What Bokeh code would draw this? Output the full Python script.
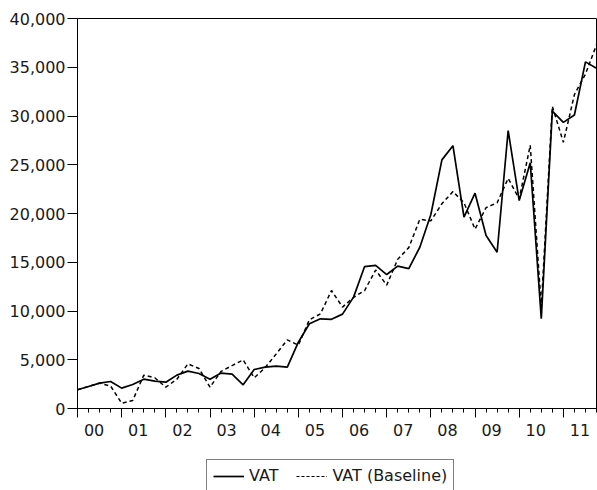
from bokeh.plotting import figure
from bokeh.layouts import column
from bokeh.models import (ColumnDataSource, Range1d, LinearAxis, FixedTicker,
                          CustomJSTickFormatter, NumeralTickFormatter, Legend, LegendItem)
from bokeh.embed import file_html
from bokeh.resources import INLINE

# Quarterly observations, 2000Q1 .. 2011Q4
quarter_index = list(range(48))

vat = [1920, 2260, 2600, 2770, 2090, 2460, 3010, 2800,
       2700, 3420, 3830, 3590, 3010, 3630, 3520, 2430,
       4000, 4240, 4340, 4240, 6800, 8690, 9200, 9150,
       9680, 11420, 14560, 14670, 13740, 14600, 14350, 16540,
       19900, 25500, 26950, 19620, 22080, 17750, 16030, 28510,
       21330, 25200, 9200, 30500, 29350, 30100, 35550, 34900]

vat_baseline = [1920, 2260, 2600, 2300, 540, 820, 3420, 3150,
                2190, 3000, 4580, 4100, 2190, 3800, 4400, 4990,
                3150, 4200, 5600, 7040, 6500, 9100, 9710, 12100,
                10400, 11400, 12100, 14200, 12650, 15300, 16500, 19400,
                19250, 21000, 22250, 21100, 18400, 20600, 21100, 23600,
                21500, 27000, 10400, 31000, 27300, 32200, 34300, 37300]

year_labels = ["00", "01", "02", "03", "04", "05", "06", "07", "08", "09", "10", "11"]
y_ticks = [0, 5000, 10000, 15000, 20000, 25000, 30000, 35000, 40000]

FONT = "DejaVu Sans"
INK = "#1a1a1a"

src = ColumnDataSource(dict(q=quarter_index, vat=vat, base=vat_baseline))

p = figure(width=597, frame_width=519, frame_height=390,
           x_range=Range1d(0, 47), y_range=Range1d(0, 40000),
           x_axis_type=None, y_axis_type=None, output_backend="svg",
           toolbar_location=None, min_border_left=77, min_border_right=1,
           min_border_top=18, min_border_bottom=0)
p.outline_line_color = "black"
p.outline_line_width = 1
p.xgrid.visible = False
p.ygrid.visible = False
p.background_fill_color = "white"
p.border_fill_color = "white"

# Left value axis
yax = LinearAxis(ticker=FixedTicker(ticks=y_ticks, minor_ticks=[]),
                 formatter=NumeralTickFormatter(format="0,0"))
yax.major_tick_out = 10
yax.major_tick_in = 0
yax.major_tick_line_color = "black"
yax.axis_line_color = "black"
yax.major_label_standoff = 2
yax.major_label_text_font = FONT
yax.major_label_text_font_size = "16px"
yax.major_label_text_color = INK
p.add_layout(yax, "left")

# Bottom axis: quarter ticks, longer ticks at the start of each year
year_starts = [4 * k for k in range(len(year_labels))]
xtick_ax = LinearAxis(ticker=FixedTicker(ticks=year_starts, minor_ticks=quarter_index),
                      formatter=CustomJSTickFormatter(code="return '';"))
xtick_ax.major_tick_out = 9
xtick_ax.major_tick_in = 0
xtick_ax.minor_tick_out = 4
xtick_ax.minor_tick_in = 0
xtick_ax.major_tick_line_color = "black"
xtick_ax.minor_tick_line_color = "black"
xtick_ax.axis_line_color = "black"
xtick_ax.major_label_text_font_size = "0px"
xtick_ax.major_label_standoff = 0
p.add_layout(xtick_ax, "below")

# Year labels centred on each year's four quarters
label_pos = [4 * k + 1.5 for k in range(len(year_labels))]
xlab_ax = LinearAxis(ticker=FixedTicker(ticks=label_pos, minor_ticks=[]),
                     formatter=CustomJSTickFormatter(
                         args=dict(labels=year_labels),
                         code="const k = Math.round((tick - 1.5) / 4); return labels[k] || '';"))
xlab_ax.major_tick_out = 0
xlab_ax.major_tick_in = 0
xlab_ax.axis_line_color = None
xlab_ax.major_tick_line_color = None
xlab_ax.major_label_standoff = 6
xlab_ax.major_label_text_font = FONT
xlab_ax.major_label_text_font_size = "16px"
xlab_ax.major_label_text_color = INK
p.add_layout(xlab_ax, "below")

p.line(x="q", y="vat", source=src, line_color="black", line_width=1.7)
p.line(x="q", y="base", source=src, line_color="black", line_width=1.5, line_dash="4 3")

# Legend strip under the chart. Its key lines sit outside the strip's ranges,
# so only their legend swatches show.
leg_fig = figure(width=597, height=54, x_range=Range1d(0, 1), y_range=Range1d(0, 1),
                 x_axis_type=None, y_axis_type=None, output_backend="svg",
                 toolbar_location=None, min_border=0)
leg_fig.outline_line_color = None
leg_fig.xgrid.visible = False
leg_fig.ygrid.visible = False
leg_fig.background_fill_color = "white"
leg_fig.border_fill_color = "white"
key_x = [-3, -2]
key_y = [-3, -2]
k_vat = leg_fig.line(x=key_x, y=key_y, line_color="black", line_width=1.7)
k_base = leg_fig.line(x=key_x, y=key_y, line_color="black", line_width=1.2, line_dash="3 2")

legend = Legend(items=[LegendItem(label="VAT", renderers=[k_vat]),
                       LegendItem(label="VAT (Baseline)", renderers=[k_base])],
                orientation="horizontal", location=(129, 0))
legend.border_line_color = "black"
legend.border_line_width = 1
legend.background_fill_color = "white"
legend.background_fill_alpha = 1
legend.label_text_font = FONT
legend.label_text_font_size = "16px"
legend.label_text_color = INK
legend.label_height = 16
legend.glyph_height = 16
legend.glyph_width = 31
legend.label_standoff = 5
legend.spacing = 18
legend.padding = 6
legend.margin = 0
leg_fig.add_layout(legend, "center")

open("out.html", "w").write(file_html(column(p, leg_fig, spacing=0), INLINE))
